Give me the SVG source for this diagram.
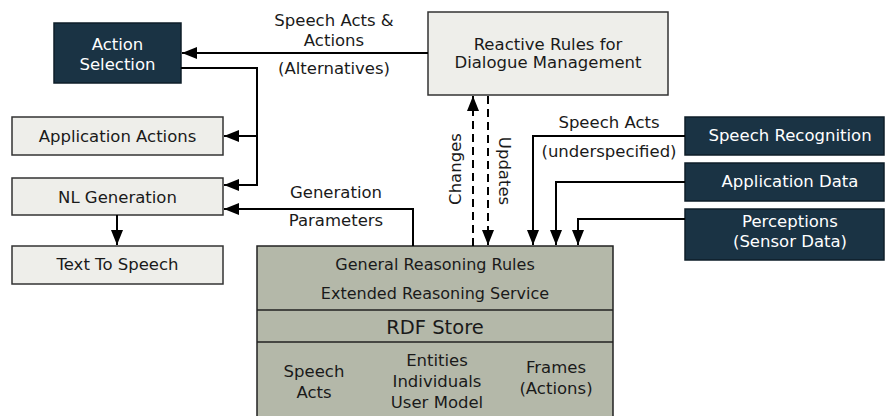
<svg xmlns="http://www.w3.org/2000/svg" width="885" height="416" viewBox="0 0 885 416">
<style>
text{font-family:"DejaVu Sans","Liberation Sans",sans-serif;font-size:16.5px;text-anchor:middle;fill:#1a1a1a}
.dark rect{fill:#1a3344;stroke:#0e1e28;stroke-width:1.5}
.dark text{fill:#ffffff}
.light rect{fill:#eeeeea;stroke:#333;stroke-width:1.5}
.conn path{fill:none;stroke:#000;stroke-width:2}
.dash{stroke-dasharray:8 5}
.small{font-size:16px}
.big{font-size:19.5px}
</style>
<defs>
<marker id="ah" viewBox="0 0 15 12" refX="15" refY="6" markerWidth="15" markerHeight="12" markerUnits="userSpaceOnUse" orient="auto">
<path d="M0,0 L15,6 L0,12 Z" fill="#000"/>
</marker>
</defs>
<g id="action-selection" class="dark">
<rect x="54" y="23" width="127" height="60"/>
<text x="117.5" y="50">Action</text>
<text x="117.5" y="70">Selection</text>
</g>
<g id="reactive-rules" class="light">
<rect x="428" y="12" width="240" height="83"/>
<text x="548" y="50">Reactive Rules for</text>
<text x="548" y="68">Dialogue Management</text>
</g>
<g id="application-actions" class="light">
<rect x="12" y="117" width="211" height="38"/>
<text x="117.5" y="142">Application Actions</text>
</g>
<g id="nl-generation" class="light">
<rect x="12" y="178" width="211" height="37"/>
<text x="117.5" y="202.5">NL Generation</text>
</g>
<g id="text-to-speech" class="light">
<rect x="12" y="246" width="211" height="38"/>
<text x="117.5" y="270">Text To Speech</text>
</g>
<g id="speech-recognition" class="dark">
<rect x="685" y="117" width="199" height="38"/>
<text x="790" y="141">Speech Recognition</text>
</g>
<g id="application-data" class="dark">
<rect x="685" y="163" width="199" height="38"/>
<text x="790" y="187">Application Data</text>
</g>
<g id="perceptions" class="dark">
<rect x="685" y="209" width="199" height="51"/>
<text x="790" y="227">Perceptions</text>
<text x="790" y="247">(Sensor Data)</text>
</g>
<g id="reasoning">
<rect x="257" y="246" width="356" height="180" fill="#b4b8a9" stroke="#222" stroke-width="1.5"/>
<path d="M257,310 H613 M257,342 H613" stroke="#222" stroke-width="1.5" fill="none"/>
<text class="small" x="435" y="270">General Reasoning Rules</text>
<text class="small" x="435" y="299">Extended Reasoning Service</text>
<text class="big" x="435" y="334">RDF Store</text>
<text x="314" y="377">Speech</text>
<text x="314" y="398">Acts</text>
<text x="437" y="366">Entities</text>
<text x="437" y="387">Individuals</text>
<text x="437" y="408">User Model</text>
<text x="556" y="373">Frames</text>
<text x="556" y="394">(Actions)</text>
</g>
<g id="connectors" class="conn">
<path d="M428,53 H182" marker-end="url(#ah)"/>
<path d="M181,68 H257 V185 H224" marker-end="url(#ah)"/>
<path d="M257,136 H224" marker-end="url(#ah)"/>
<path d="M117,215 V245" marker-end="url(#ah)"/>
<path d="M413,246 V209 H224" marker-end="url(#ah)"/>
<path class="dash" d="M473,246 V96" marker-end="url(#ah)"/>
<path class="dash" d="M488,96 V245" marker-end="url(#ah)"/>
<path d="M685,136 H533 V245" marker-end="url(#ah)"/>
<path d="M685,182 H556 V245" marker-end="url(#ah)"/>
<path d="M685,219 H578 V245" marker-end="url(#ah)"/>
</g>
<g id="labels">
<text x="334" y="26">Speech Acts &amp;</text>
<text x="334" y="46">Actions</text>
<text x="334" y="74">(Alternatives)</text>
<text x="336" y="198">Generation</text>
<text x="336" y="226">Parameters</text>
<text x="609" y="128">Speech Acts</text>
<text x="609" y="157">(underspecified)</text>
<text transform="translate(461,169) rotate(-90)">Changes</text>
<text transform="translate(499,171) rotate(90)">Updates</text>
</g>
</svg>
